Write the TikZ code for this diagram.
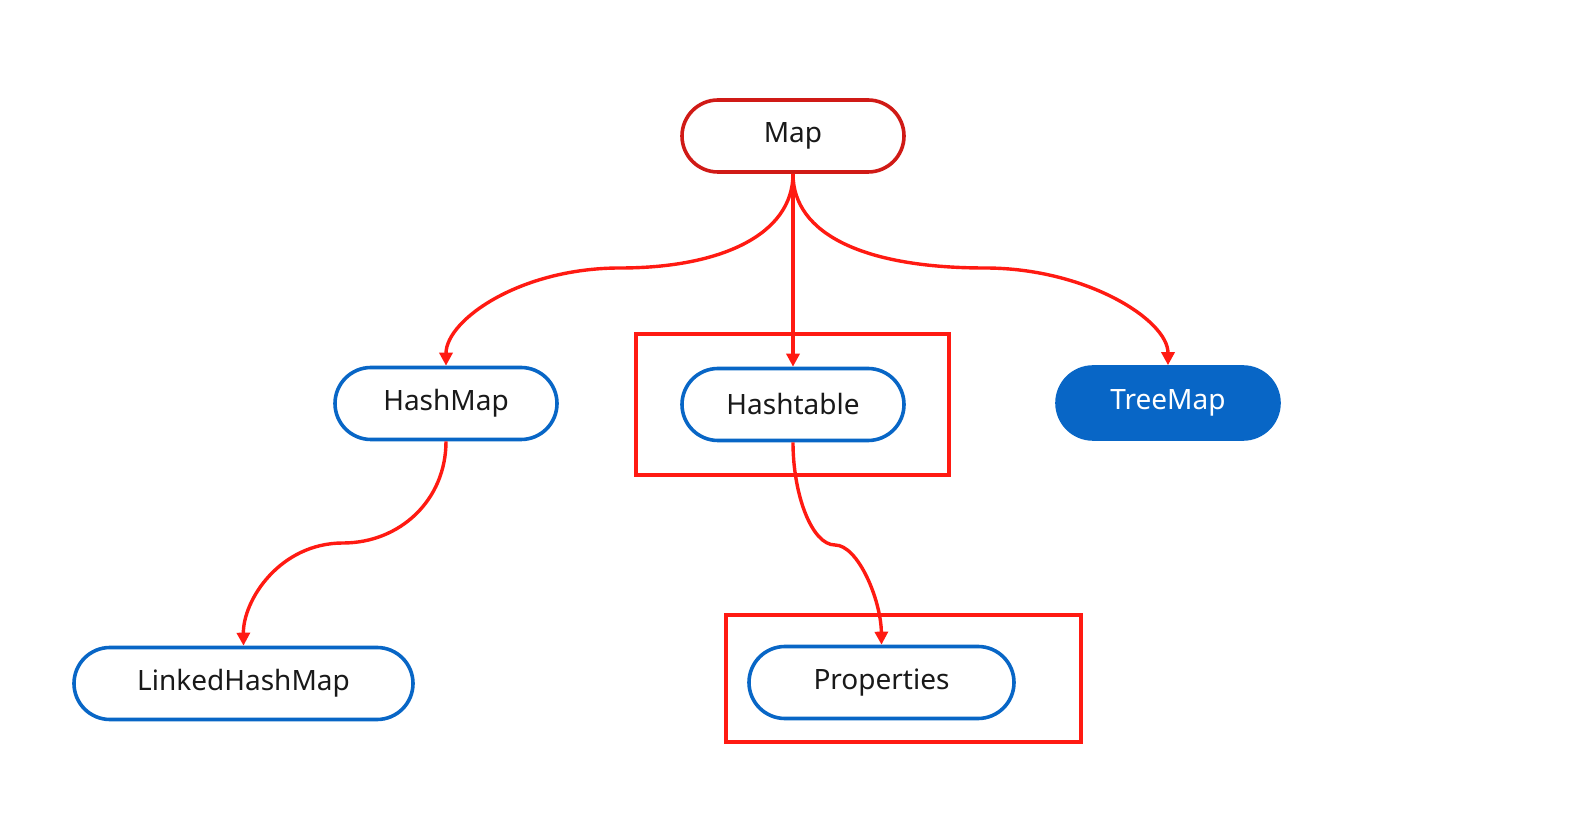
\documentclass[tikz,border=0pt]{standalone}
\usepackage{fontspec}
\setmainfont{Noto Sans}
\usetikzlibrary{arrows.meta}
\definecolor{redA}{HTML}{FF1A12}
\definecolor{redB}{HTML}{D01A16}
\definecolor{blueA}{HTML}{0866C6}
\begin{document}
\begin{tikzpicture}[x=0.5pt,y=-0.5pt,
  pill/.style={draw=blueA,line width=1.8pt,rounded corners=18pt,minimum height=36pt,inner sep=0pt,font=\fontsize{14}{16}\selectfont,text=black!90},
  pillfill/.style={pill,fill=blueA,text=white},
  link/.style={draw=redA,line width=1.7pt,-{Triangle[length=6.5pt,width=6.5pt]}},
  frame/.style={draw=redA,line width=1.7pt}]
\useasboundingbox (0,0) rectangle (1581,823);
\fill[white] (0,0) rectangle (1581,823);
\node[pill,draw=redB,minimum width=111pt] (map) at (793,136) {Map};
\node[pill,minimum width=111pt] (hashmap) at (446,403.5) {HashMap};
\node[pill,minimum width=111pt] (hashtable) at (793,404.5) {Hashtable};
\node[pillfill,minimum width=111pt] (treemap) at (1168,403) {TreeMap};
\node[pill,minimum width=169.5pt] (linked) at (243.5,683.5) {LinkedHashMap};
\node[pill,minimum width=132.5pt] (props) at (881.5,682.5) {Properties};
\node[frame,minimum width=156.5pt,minimum height=70.5pt,inner sep=0pt] (fr1) at (792.5,404.5) {};
\node[frame,minimum width=177.5pt,minimum height=63.5pt,inner sep=0pt] (fr2) at (903.5,678.5) {};
\coordinate (m1) at (620,268);
\coordinate (m2) at (985,268);
\coordinate (m3) at (343,543);
\coordinate (m4) at (835,545);
\draw[link] (map.south) .. controls (793,235) and (720,268) .. (m1) .. controls (520,268) and (446,320) .. (hashmap.north);
\draw[link] (map.south) -- (hashtable.north);
\draw[link] (map.south) .. controls (793,235) and (866,268) .. (m2) .. controls (1086,268) and (1168,320) .. (treemap.north);
\draw[link] (hashmap.south) .. controls (446,500) and (400,543) .. (m3) .. controls (280,543) and (243,600) .. (linked.north);
\draw[link] (hashtable.south) .. controls (793,495) and (812,545) .. (m4) .. controls (858,545) and (881,600) .. (props.north);
\end{tikzpicture}
\end{document}
